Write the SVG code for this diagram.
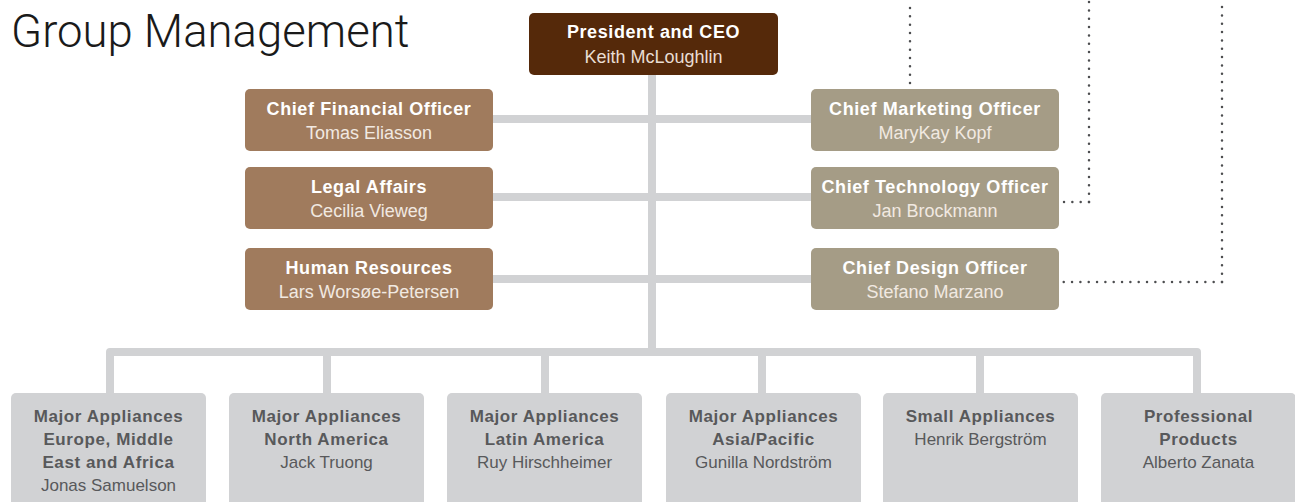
<svg xmlns="http://www.w3.org/2000/svg" width="1295" height="502" viewBox="0 0 1295 502">
<style>
.t{font-family:"Liberation Sans",Arial,Helvetica,sans-serif;text-anchor:middle}
.b{font-weight:bold;letter-spacing:0.6px}
.up{font-size:18px}
.lo{font-size:17px}
.w{fill:#ffffff}
.nw{fill:#f1e9e1}
.g{fill:#58595b}
.conn{fill:none;stroke:#d1d2d4;stroke-width:8}
.dot{fill:none;stroke:#4d4e50;stroke-width:2.5;stroke-linecap:round;stroke-dasharray:0 8.33}
</style>
<rect width="1295" height="502" fill="#ffffff"/>
<text id="title" x="11" y="47" font-family="Roboto,'Liberation Sans',sans-serif" font-weight="300" font-size="45.5" fill="#1a1a1a">Group Management</text>
<g id="connectors">
<line class="conn" x1="652" y1="75" x2="652" y2="352"/>
<line class="conn" x1="493" y1="119" x2="811" y2="119"/>
<line class="conn" x1="493" y1="197" x2="811" y2="197"/>
<line class="conn" x1="493" y1="279" x2="811" y2="279"/>
<path class="conn" stroke-linejoin="round" d="M110,393 V352 H1197 V393"/>
<line class="conn" x1="327" y1="352" x2="327" y2="393"/>
<line class="conn" x1="545" y1="352" x2="545" y2="393"/>
<line class="conn" x1="762" y1="352" x2="762" y2="393"/>
<line class="conn" x1="980" y1="352" x2="980" y2="393"/>
<line class="dot" x1="910" y1="83" x2="910" y2="0"/>
<line class="dot" x1="1089" y1="202" x2="1089" y2="0"/>
<line class="dot" x1="1089" y1="202" x2="1063" y2="202"/>
<line class="dot" x1="1222" y1="282" x2="1222" y2="0"/>
<line class="dot" x1="1222" y1="282" x2="1060" y2="282"/>
</g>
<g id="ceo">
<rect x="529" y="13" width="249" height="62" rx="5" fill="#55290a"/>
<text class="t up b w" x="653.5" y="38">President and CEO</text>
<text class="t up" x="653.5" y="63" fill="#e9ddd3">Keith McLoughlin</text>
</g>
<g id="cfo">
<rect x="245" y="89" width="248" height="62" rx="5" fill="#a07b5d"/>
<text class="t up b w" x="369" y="115">Chief Financial Officer</text>
<text class="t up nw" x="369" y="139">Tomas Eliasson</text>
</g>
<g id="legal">
<rect x="245" y="167" width="248" height="62" rx="5" fill="#a07b5d"/>
<text class="t up b w" x="369" y="193">Legal Affairs</text>
<text class="t up nw" x="369" y="217">Cecilia Vieweg</text>
</g>
<g id="hr">
<rect x="245" y="248" width="248" height="62" rx="5" fill="#a07b5d"/>
<text class="t up b w" x="369" y="274">Human Resources</text>
<text class="t up nw" x="369" y="298">Lars Worsøe-Petersen</text>
</g>
<g id="cmo">
<rect x="811" y="89" width="248" height="62" rx="5" fill="#a59c86"/>
<text class="t up b w" x="935" y="115">Chief Marketing Officer</text>
<text class="t up nw" x="935" y="139">MaryKay Kopf</text>
</g>
<g id="cto">
<rect x="811" y="167" width="248" height="62" rx="5" fill="#a59c86"/>
<text class="t up b w" x="935" y="193">Chief Technology Officer</text>
<text class="t up nw" x="935" y="217">Jan Brockmann</text>
</g>
<g id="cdo">
<rect x="811" y="248" width="248" height="62" rx="5" fill="#a59c86"/>
<text class="t up b w" x="935" y="274">Chief Design Officer</text>
<text class="t up nw" x="935" y="298">Stefano Marzano</text>
</g>
<g id="emea">
<rect x="11" y="393" width="195" height="130" rx="5" fill="#d1d2d4"/>
<text class="t lo b g" x="108.5" y="422">Major Appliances</text>
<text class="t lo b g" x="108.5" y="445">Europe, Middle</text>
<text class="t lo b g" x="108.5" y="468">East and Africa</text>
<text class="t lo g" x="108.5" y="491">Jonas Samuelson</text>
</g>
<g id="na">
<rect x="229" y="393" width="195" height="130" rx="5" fill="#d1d2d4"/>
<text class="t lo b g" x="326.5" y="422">Major Appliances</text>
<text class="t lo b g" x="326.5" y="445">North America</text>
<text class="t lo g" x="326.5" y="468">Jack Truong</text>
</g>
<g id="la">
<rect x="447" y="393" width="195" height="130" rx="5" fill="#d1d2d4"/>
<text class="t lo b g" x="544.5" y="422">Major Appliances</text>
<text class="t lo b g" x="544.5" y="445">Latin America</text>
<text class="t lo g" x="544.5" y="468">Ruy Hirschheimer</text>
</g>
<g id="ap">
<rect x="666" y="393" width="195" height="130" rx="5" fill="#d1d2d4"/>
<text class="t lo b g" x="763.5" y="422">Major Appliances</text>
<text class="t lo b g" x="763.5" y="445">Asia/Pacific</text>
<text class="t lo g" x="763.5" y="468">Gunilla Nordström</text>
</g>
<g id="sa">
<rect x="883" y="393" width="195" height="130" rx="5" fill="#d1d2d4"/>
<text class="t lo b g" x="980.5" y="422">Small Appliances</text>
<text class="t lo g" x="980.5" y="445">Henrik Bergström</text>
</g>
<g id="pp">
<rect x="1101" y="393" width="195" height="130" rx="5" fill="#d1d2d4"/>
<text class="t lo b g" x="1198.5" y="422">Professional</text>
<text class="t lo b g" x="1198.5" y="445">Products</text>
<text class="t lo g" x="1198.5" y="468">Alberto Zanata</text>
</g>
</svg>
